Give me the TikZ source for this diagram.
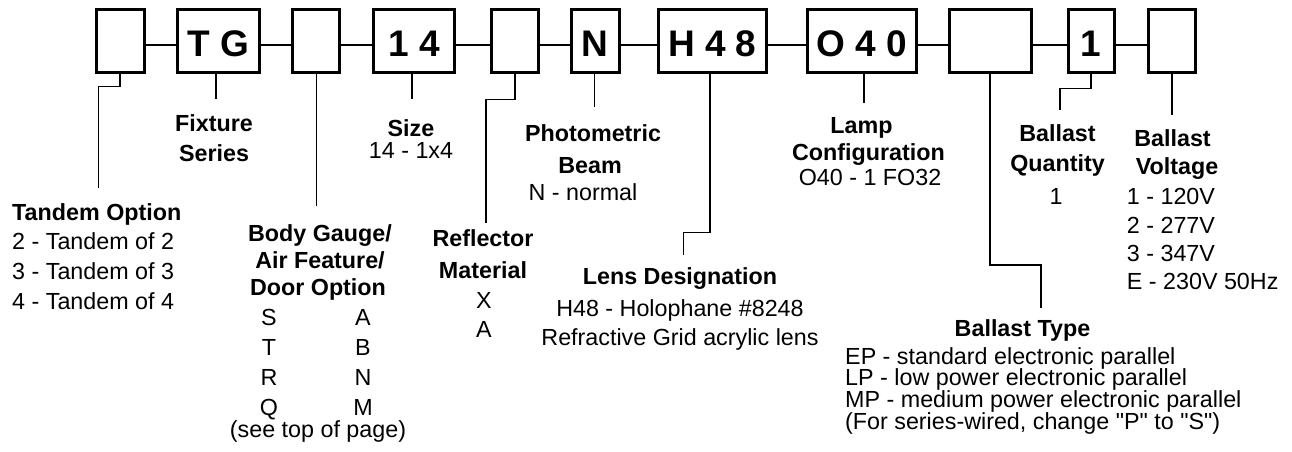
\documentclass[tikz,border=0pt]{standalone}
\usepackage{fontspec}
\setmainfont{Liberation Sans}
\begin{document}
\begin{tikzpicture}[x=1pt,y=-1pt]
\tikzset{
 codebox/.style={draw, line width=3pt, inner sep=0pt, minimum height=62.7pt},
 codetxt/.style={anchor=base, inner sep=0pt, font=\fontsize{37}{40}\selectfont\bfseries},
 conn/.style={line width=2.3pt},
 lead/.style={line width=1.6pt},
 hd/.style={anchor=base, inner sep=0pt, font=\fontsize{23.3}{28}\selectfont\bfseries},
 tx/.style={anchor=base, inner sep=0pt, font=\fontsize{23.3}{28}\selectfont},
 txl/.style={tx, anchor=base west},
 hdl/.style={hd, anchor=base west},
}
\useasboundingbox (0,0) rectangle (1292,451);
% code boxes
\node[codebox, minimum width=47.5] (b1) at (120.25,41.15) {};
\node[codebox, minimum width=81.5] (b2) at (218.25,41.15) {};
\node[codebox, minimum width=47] (b3) at (316,41.15) {};
\node[codebox, minimum width=81] (b4) at (414,41.15) {};
\node[codebox, minimum width=47] (b5) at (515,41.15) {};
\node[codebox, minimum width=47.5] (b6) at (595.25,41.15) {};
\node[codebox, minimum width=108.5] (b7) at (712.25,41.15) {};
\node[codebox, minimum width=108.5] (b8) at (861.75,41.15) {};
\node[codebox, minimum width=81.5] (b9) at (990.25,41.15) {};
\node[codebox, minimum width=46.5] (b10) at (1091.25,41.15) {};
\node[codebox, minimum width=46.5] (b11) at (1171.75,41.15) {};
% box texts
\node[codetxt] (t2) at (218.25,56.7) {T G};
\node[codetxt] (t4) at (414,56.7) {1 4};
\node[codetxt] (t6) at (595.25,56.7) {N};
\node[codetxt] (t7) at (712.25,56.7) {H 4 8};
\node[codetxt] (t8) at (861.75,56.7) {O 4 0};
\node[codetxt] (t10) at (1091.25,56.7) {1};
% horizontal connectors
\coordinate (hy) at (0,45);
\foreach \a/\b in {b1/b2,b2/b3,b3/b4,b4/b5,b5/b6,b6/b7,b7/b8,b8/b9,b9/b10,b10/b11}
  \draw[conn] (\a.east |- hy) -- (\b.west |- hy);
% leaders
\coordinate (l1a) at (98.3,86.5); \coordinate (l1b) at (98.3,188);
\draw[lead] (b1.south) |- (l1a) -- (l1b);
\coordinate (l2) at (216,99); \draw[lead] (b2.south -| l2) -- (l2);
\coordinate (l3) at (316.5,206); \draw[lead] (b3.south -| l3) -- (l3);
\coordinate (l4) at (412,99.3); \draw[lead] (b4.south -| l4) -- (l4);
\coordinate (l5a) at (485.7,99.3); \coordinate (l5b) at (485.7,222.7);
\draw[lead] (b5.south) |- (l5a) -- (l5b);
\coordinate (l6) at (594.5,107.3); \draw[lead] (b6.south -| l6) -- (l6);
\coordinate (l7a) at (710,232.5); \coordinate (l7b) at (683.3,232.5); \coordinate (l7c) at (683.3,255);
\draw[lead] (b7.south -| l7a) -- (l7a) -- (l7b) -- (l7c);
\coordinate (l8) at (864,103.3); \draw[lead] (b8.south -| l8) -- (l8);
\coordinate (l9a) at (1041,265); \coordinate (l9b) at (1041,308);
\draw[lead] (b9.south) |- (l9a) -- (l9b);
\coordinate (l10a) at (1060,88.3); \coordinate (l10b) at (1060,110);
\draw[lead] (b10.south) |- (l10a) -- (l10b);
\coordinate (l11) at (1171.5,115); \draw[lead] (b11.south) -- (b11.south |- l11);
% Tandem option
\node[hdl] (tan0) at (12,220.7) {Tandem Option};
\node[txl] (tan1) at (12,249.7) {2 - Tandem of 2};
\node[txl] (tan2) at (12,279.7) {3 - Tandem of 3};
\node[txl] (tan3) at (12,309.7) {4 - Tandem of 4};
% Fixture series
\node[hd] (fx1) at (214,131.7) {Fixture};
\node[hd] (fx2) at (214,161.7) {Series};
% Size
\node[hd] (sz1) at (411,136.7) {Size};
\node[tx] (sz2) at (411,158.4) {14 - 1x4};
% Body gauge
\node[hd] (bg1) at (320,241.7) {Body Gauge/};
\node[hd] (bg2) at (320,268.4) {Air Feature/};
\node[hd] (bg3) at (318,295) {Door Option};
\node[tx] (bgs) at (269,325) {S};
\node[tx] (bgt) at (269,355) {T};
\node[tx] (bgr) at (269,385) {R};
\node[tx] (bgq) at (269,415) {Q};
\node[tx] (bga) at (363,325) {A};
\node[tx] (bgb) at (363,355) {B};
\node[tx] (bgn) at (363,385) {N};
\node[tx] (bgm) at (363,415) {M};
\node[tx] (bgp) at (318,437.7) {(see top of page)};
% Reflector material
\node[hd] (rf1) at (483,246.7) {Reflector};
\node[hd] (rf2) at (483,278.4) {Material};
\node[tx] (rfx) at (484,308) {X};
\node[tx] (rfa) at (484,337) {A};
% Photometric beam
\node[hd] (pb1) at (593,141.7) {Photometric};
\node[hd] (pb2) at (590,173.4) {Beam};
\node[tx] (pb3) at (583,200) {N - normal};
% Lens designation
\node[hd] (ld1) at (680,284.7) {Lens Designation};
\node[tx] (ld2) at (680,316.7) {H48 - Holophane \#8248};
\node[tx] (ld3) at (680,345.7) {Refractive Grid acrylic lens};
% Lamp configuration
\node[hd] (lc1) at (861.5,133) {Lamp};
\node[hd] (lc2) at (868.5,160.5) {Configuration};
\node[tx] (lc3) at (870,185) {O40 - 1 FO32};
% Ballast quantity
\node[hd] (bq1) at (1057.5,141.7) {Ballast};
\node[hd] (bq2) at (1057.5,171.7) {Quantity};
\node[tx] (bq3) at (1056,204.7) {1};
% Ballast voltage
\node[hd] (bv1) at (1172.5,146.7) {Ballast};
\node[hd] (bv2) at (1177,174.7) {Voltage};
\node[txl] (bv3) at (1126.7,204.7) {1 - 120V};
\node[txl] (bv4) at (1126.7,233.4) {2 - 277V};
\node[txl] (bv5) at (1126.7,261.7) {3 - 347V};
\node[txl] (bv6) at (1126.7,289.7) {E - 230V 50Hz};
% Ballast type
\node[hd] (bt1) at (1022.5,336.7) {Ballast Type};
\node[txl] (bt2) at (845,364.7) {EP - standard electronic parallel};
\node[txl] (bt3) at (845,385.5) {LP - low power electronic parallel};
\node[txl] (bt4) at (845,407.5) {MP - medium power electronic parallel};
\node[txl] (bt5) at (845,429.5) {(For series-wired, change \textquotedbl P\textquotedbl{} to \textquotedbl S\textquotedbl)};
\end{tikzpicture}
\end{document}
